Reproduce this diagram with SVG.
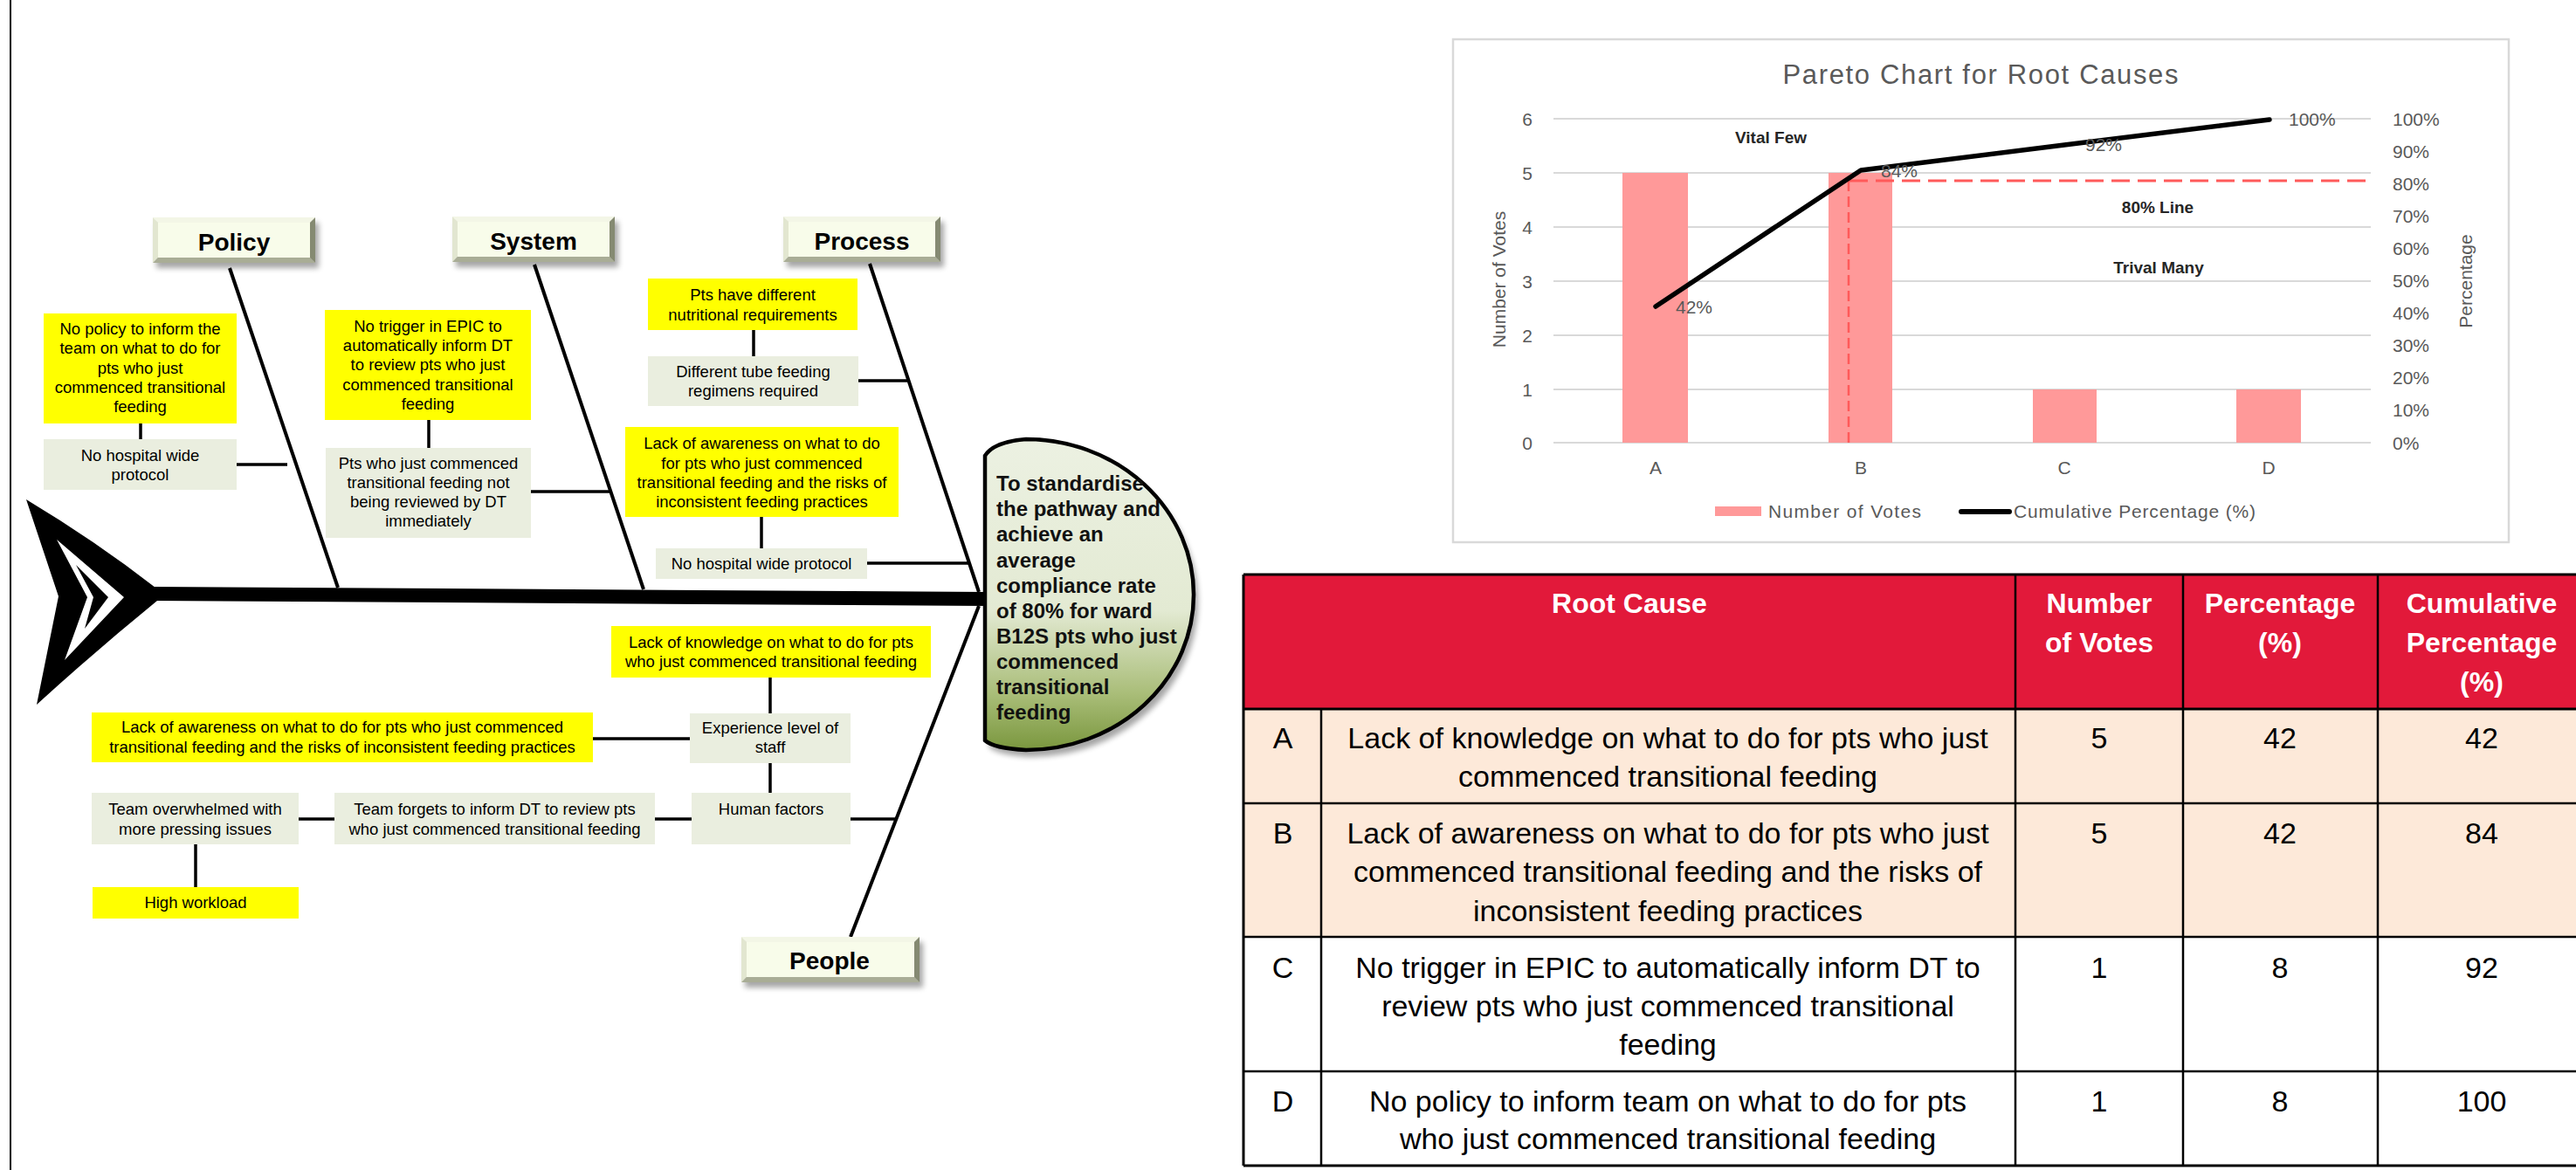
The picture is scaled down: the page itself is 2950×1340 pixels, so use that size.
<svg xmlns="http://www.w3.org/2000/svg" width="2950" height="1340" viewBox="0 0 2950 1340">
<defs>
<style>
.yel{fill:#FFFF00}
.gry{fill:#EAEEDF}
.t{font-family:"Liberation Sans",Arial,sans-serif;font-size:18.5px;fill:#000;text-anchor:middle}
.cat{font-family:"Liberation Sans",Arial,sans-serif;font-weight:bold;font-size:28px;fill:#000;text-anchor:middle}
.hd{font-family:"Liberation Sans",Arial,sans-serif;font-weight:bold;font-size:24px;fill:#111}
.ln{stroke:#000;stroke-width:4;fill:none}
.cn{stroke:#000;stroke-width:3.5;fill:none}
.bt{fill:#F3F6E6}.bl{fill:#E2E6D0}.br{fill:#858A72}.bb{fill:#A9AD96}.bf{fill:#F8FCEA}
.shd{fill:#000;opacity:.35}
.ct{font-family:"Liberation Sans",Arial,sans-serif;font-size:21px;fill:#595959}
.cb{font-family:"Liberation Sans",Arial,sans-serif;font-size:19px;font-weight:bold;fill:#262626;text-anchor:middle}
.grid{stroke:#D9D9D9;stroke-width:2}
.bar{fill:#FF9999}
.tb{font-family:"Liberation Sans",Arial,sans-serif;font-size:34px;fill:#000;text-anchor:middle}
.th{font-family:"Liberation Sans",Arial,sans-serif;font-size:32px;font-weight:bold;fill:#fff;text-anchor:middle}
.tl{stroke:#000;stroke-width:2.5;fill:none}
</style>
<filter id="blur" x="-20%" y="-20%" width="140%" height="140%"><feGaussianBlur stdDeviation="3"/></filter>
<linearGradient id="headg" x1="0" y1="0" x2="0" y2="1">
<stop offset="0" stop-color="#ECF1E2"/>
<stop offset="0.55" stop-color="#E3EAD3"/>
<stop offset="0.82" stop-color="#A9BD78"/>
<stop offset="1" stop-color="#7A973E"/>
</linearGradient>
</defs>
<rect x="0" y="0" width="2950" height="1340" fill="#fff"/>
<line x1="12" y1="0" x2="12" y2="1340" stroke="#000" stroke-width="2"/>

<!-- fish tail and spine -->
<g id="tail">
<path d="M30,572 Q110,620 178,673 L180,688 Q110,745 42,807 L67,683 Z" fill="#000"/>
<polygon points="65,618 142,684 74,756 100,684" fill="#fff"/>
<polygon points="87,647 124,684 97,720 107,684" fill="#000"/>
</g>
<g id="spine">
<polygon points="176,672 1132,678 1132,694 176,688" fill="#000"/>
</g>

<g id="connectors">
<path class="ln" d="M263,307 L387,673"/>
<path class="ln" d="M612,303 L737,675"/>
<path class="ln" d="M996,302 L1121,678"/>
<path class="ln" d="M1121,694 L974,1073"/>
<path class="cn" d="M161,485 V503"/>
<path class="cn" d="M271,532 H329"/>
<path class="cn" d="M491,481 V513"/>
<path class="cn" d="M608,563 H700"/>
<path class="cn" d="M863,378 V408"/>
<path class="cn" d="M983,436 H1040"/>
<path class="cn" d="M872,592 V628"/>
<path class="cn" d="M993,645 H1110"/>
<path class="cn" d="M882,776 V817"/>
<path class="cn" d="M679,846 H790"/>
<path class="cn" d="M882,874 V908"/>
<path class="cn" d="M974,938 H1026"/>
<path class="cn" d="M750,938 H792"/>
<path class="cn" d="M342,938 H383"/>
<path class="cn" d="M224,967 V1016"/>
</g>

<!-- head -->
<g id="head">
<path d="M1128,522 Q1138,506 1175,503 A192,178 0 0 1 1175,859 Q1138,857 1128,848 Z" class="shd" transform="translate(5,8)" filter="url(#blur)"/>
<path d="M1128,522 Q1138,506 1175,503 A192,178 0 0 1 1175,859 Q1138,857 1128,848 Z" fill="url(#headg)" stroke="#000" stroke-width="4.5"/>
<text class="hd" x="1141" y="562">To standardise</text>
<text class="hd" x="1141" y="591">the pathway and</text>
<text class="hd" x="1141" y="620">achieve an</text>
<text class="hd" x="1141" y="650">average</text>
<text class="hd" x="1141" y="679">compliance rate</text>
<text class="hd" x="1141" y="708">of 80% for ward</text>
<text class="hd" x="1141" y="737">B12S pts who just</text>
<text class="hd" x="1141" y="766">commenced</text>
<text class="hd" x="1141" y="795">transitional</text>
<text class="hd" x="1141" y="824">feeding</text>
</g>

<!-- category boxes -->
<g id="cat-policy">
<rect class="shd" x="179" y="255" width="186" height="52" filter="url(#blur)"/>
<polygon class="bt" points="175,249 361,249 355,255 181,255"/>
<polygon class="bl" points="175,249 181,255 181,295 175,301"/>
<polygon class="br" points="361,249 361,301 355,295 355,255"/>
<polygon class="bb" points="175,301 181,295 355,295 361,301"/>
<rect class="bf" x="181" y="255" width="174" height="40"/>
<text class="cat" x="268" y="287">Policy</text>
</g>
<g id="cat-system">
<rect class="shd" x="522" y="254" width="186" height="52" filter="url(#blur)"/>
<polygon class="bt" points="518,248 704,248 698,254 524,254"/>
<polygon class="bl" points="518,248 524,254 524,294 518,300"/>
<polygon class="br" points="704,248 704,300 698,294 698,254"/>
<polygon class="bb" points="518,300 524,294 698,294 704,300"/>
<rect class="bf" x="524" y="254" width="174" height="40"/>
<text class="cat" x="611" y="286">System</text>
</g>
<g id="cat-process">
<rect class="shd" x="901" y="254" width="180" height="52" filter="url(#blur)"/>
<polygon class="bt" points="897,248 1077,248 1071,254 903,254"/>
<polygon class="bl" points="897,248 903,254 903,294 897,300"/>
<polygon class="br" points="1077,248 1077,300 1071,294 1071,254"/>
<polygon class="bb" points="897,300 903,294 1071,294 1077,300"/>
<rect class="bf" x="903" y="254" width="168" height="40"/>
<text class="cat" x="987" y="286">Process</text>
</g>
<g id="cat-people">
<rect class="shd" x="853" y="1079" width="204" height="52" filter="url(#blur)"/>
<polygon class="bt" points="849,1073 1053,1073 1047,1079 855,1079"/>
<polygon class="bl" points="849,1073 855,1079 855,1119 849,1125"/>
<polygon class="br" points="1053,1073 1053,1125 1047,1119 1047,1079"/>
<polygon class="bb" points="849,1125 855,1119 1047,1119 1053,1125"/>
<rect class="bf" x="855" y="1079" width="192" height="40"/>
<text class="cat" x="950" y="1110">People</text>
</g>

<!-- policy causes -->
<g id="policy-root">
<rect class="yel" x="50" y="359" width="221" height="126"/>
<text class="t" x="160.5" y="383">No policy to inform the</text>
<text class="t" x="160.5" y="405">team on what to do for</text>
<text class="t" x="160.5" y="428">pts who just</text>
<text class="t" x="160.5" y="450">commenced transitional</text>
<text class="t" x="160.5" y="472">feeding</text>
</g>
<g id="policy-cause">
<rect class="gry" x="50" y="503" width="221" height="58"/>
<text class="t" x="160.5" y="528">No hospital wide</text>
<text class="t" x="160.5" y="550">protocol</text>
</g>

<!-- system causes -->
<g id="system-root">
<rect class="yel" x="372" y="355" width="236" height="126"/>
<text class="t" x="490" y="380">No trigger in EPIC to</text>
<text class="t" x="490" y="402">automatically inform DT</text>
<text class="t" x="490" y="424">to review pts who just</text>
<text class="t" x="490" y="447">commenced transitional</text>
<text class="t" x="490" y="469">feeding</text>
</g>
<g id="system-cause">
<rect class="gry" x="373" y="513" width="235" height="103"/>
<text class="t" x="490.5" y="537">Pts who just commenced</text>
<text class="t" x="490.5" y="559">transitional feeding not</text>
<text class="t" x="490.5" y="581">being reviewed by DT</text>
<text class="t" x="490.5" y="603">immediately</text>
</g>

<!-- process causes -->
<g id="process-root1">
<rect class="yel" x="742" y="319" width="240" height="59"/>
<text class="t" x="862" y="344">Pts have different</text>
<text class="t" x="862" y="367">nutritional requirements</text>
</g>
<g id="process-cause1">
<rect class="gry" x="742" y="408" width="241" height="57"/>
<text class="t" x="862.5" y="432">Different tube feeding</text>
<text class="t" x="862.5" y="454">regimens required</text>
</g>
<g id="process-root2">
<rect class="yel" x="716" y="489" width="313" height="103"/>
<text class="t" x="872.5" y="514">Lack of awareness on what to do</text>
<text class="t" x="872.5" y="537">for pts who just commenced</text>
<text class="t" x="872.5" y="559">transitional feeding and the risks of</text>
<text class="t" x="872.5" y="581">inconsistent feeding practices</text>
</g>
<g id="process-cause2">
<rect class="gry" x="751" y="628" width="242" height="35"/>
<text class="t" x="872" y="652">No hospital wide protocol</text>
</g>

<!-- people causes -->
<g id="people-root1">
<rect class="yel" x="700" y="717" width="366" height="59"/>
<text class="t" x="883" y="742">Lack of knowledge on what to do for pts</text>
<text class="t" x="883" y="764">who just commenced transitional feeding</text>
</g>
<g id="people-experience">
<rect class="gry" x="790" y="817" width="184" height="57"/>
<text class="t" x="882" y="840">Experience level of</text>
<text class="t" x="882" y="862">staff</text>
</g>
<g id="people-root2">
<rect class="yel" x="105" y="816" width="574" height="57"/>
<text class="t" x="392" y="839">Lack of awareness on what to do for pts who just commenced</text>
<text class="t" x="392" y="862">transitional feeding and the risks of inconsistent feeding practices</text>
</g>
<g id="people-human">
<rect class="gry" x="792" y="908" width="182" height="59"/>
<text class="t" x="883" y="933">Human  factors</text>
</g>
<g id="people-forgets">
<rect class="gry" x="383" y="908" width="367" height="59"/>
<text class="t" x="566.5" y="933">Team forgets to inform DT to review pts</text>
<text class="t" x="566.5" y="956">who just commenced transitional feeding</text>
</g>
<g id="people-overwhelmed">
<rect class="gry" x="105" y="908" width="237" height="59"/>
<text class="t" x="223.5" y="933">Team overwhelmed with</text>
<text class="t" x="223.5" y="956">more pressing issues</text>
</g>
<g id="people-workload">
<rect class="yel" x="106" y="1016" width="236" height="36"/>
<text class="t" x="224" y="1040">High workload</text>
</g>

<!-- Pareto chart -->
<g id="pareto-chart">
<rect x="1664" y="45" width="1209" height="576" fill="#fff" stroke="#D9D9D9" stroke-width="2.5"/>
<text class="ct" x="2268" y="96" text-anchor="middle" style="font-size:31px" textLength="453" lengthAdjust="spacing">Pareto Chart for Root Causes</text>
<g>
<line class="grid" x1="1779" y1="136" x2="2715" y2="136"/>
<line class="grid" x1="1779" y1="198" x2="2715" y2="198"/>
<line class="grid" x1="1779" y1="260" x2="2715" y2="260"/>
<line class="grid" x1="1779" y1="322" x2="2715" y2="322"/>
<line class="grid" x1="1779" y1="384" x2="2715" y2="384"/>
<line class="grid" x1="1779" y1="446" x2="2715" y2="446"/>
<line class="grid" x1="1779" y1="507" x2="2715" y2="507"/>
</g>
<g text-anchor="middle">
<text class="ct" x="1749" y="144">6</text>
<text class="ct" x="1749" y="206">5</text>
<text class="ct" x="1749" y="268">4</text>
<text class="ct" x="1749" y="330">3</text>
<text class="ct" x="1749" y="392">2</text>
<text class="ct" x="1749" y="454">1</text>
<text class="ct" x="1749" y="515">0</text>
</g>
<g>
<text class="ct" x="2740" y="144">100%</text>
<text class="ct" x="2740" y="181">90%</text>
<text class="ct" x="2740" y="218">80%</text>
<text class="ct" x="2740" y="255">70%</text>
<text class="ct" x="2740" y="292">60%</text>
<text class="ct" x="2740" y="329">50%</text>
<text class="ct" x="2740" y="366">40%</text>
<text class="ct" x="2740" y="403">30%</text>
<text class="ct" x="2740" y="440">20%</text>
<text class="ct" x="2740" y="477">10%</text>
<text class="ct" x="2740" y="515">0%</text>
</g>
<text class="ct" transform="translate(1724,320) rotate(-90)" text-anchor="middle">Number of Votes</text>
<text class="ct" transform="translate(2831,322) rotate(-90)" text-anchor="middle">Percentage</text>
<rect class="bar" x="1858" y="198" width="75" height="309"/>
<rect class="bar" x="2094" y="198" width="73" height="309"/>
<rect class="bar" x="2328" y="446" width="73" height="61"/>
<rect class="bar" x="2561" y="446" width="74" height="61"/>
<g text-anchor="middle">
<text class="ct" x="1896" y="543">A</text>
<text class="ct" x="2131" y="543">B</text>
<text class="ct" x="2364" y="543">C</text>
<text class="ct" x="2598" y="543">D</text>
</g>
<line x1="2117" y1="207" x2="2117" y2="507" stroke="#FF5A5A" stroke-width="2.5" stroke-dasharray="12 6"/>
<line x1="2118" y1="207" x2="2710" y2="207" stroke="#FF5A5A" stroke-width="3" stroke-dasharray="21 9"/>
<polyline points="1896,351 2131,195 2364,166 2599,137" fill="none" stroke="#000" stroke-width="5.5" stroke-linecap="round" stroke-linejoin="round"/>
<text class="ct" x="1919" y="359">42%</text>
<text class="ct" x="2154" y="203">84%</text>
<text class="ct" x="2388" y="173">92%</text>
<text class="ct" x="2621" y="144">100%</text>
<text class="cb" x="2028" y="164">Vital Few</text>
<text class="cb" x="2471" y="244">80% Line</text>
<text class="cb" x="2472" y="313">Trival Many</text>
<rect class="bar" x="1964" y="580" width="53" height="11"/>
<text class="ct" x="2025" y="593" textLength="175" lengthAdjust="spacing">Number of Votes</text>
<line x1="2246" y1="586" x2="2301" y2="586" stroke="#000" stroke-width="6" stroke-linecap="round"/>
<text class="ct" x="2306" y="593" textLength="277" lengthAdjust="spacing">Cumulative Percentage (%)</text>
</g>

<!-- table -->
<g id="root-cause-table">
<rect x="1424" y="658" width="1540" height="154" fill="#E2193A"/>
<rect x="1424" y="812" width="1540" height="261" fill="#FDE9D9"/>
<rect x="1424" y="1073" width="1540" height="262" fill="#fff"/>
<g class="tl">
<line x1="1424" y1="658" x2="2964" y2="658" stroke-width="3"/>
<line x1="1424" y1="812" x2="2964" y2="812" stroke-width="3"/>
<line x1="1424" y1="920" x2="2964" y2="920"/>
<line x1="1424" y1="1073" x2="2964" y2="1073"/>
<line x1="1424" y1="1227" x2="2964" y2="1227"/>
<line x1="1424" y1="1335" x2="2964" y2="1335" stroke-width="3"/>
<line x1="1424" y1="658" x2="1424" y2="1335" stroke-width="3"/>
<line x1="1513" y1="812" x2="1513" y2="1335"/>
<line x1="2308" y1="658" x2="2308" y2="1335"/>
<line x1="2500" y1="658" x2="2500" y2="1335"/>
<line x1="2723" y1="658" x2="2723" y2="1335"/>
</g>
<text class="th" x="1866" y="702">Root Cause</text>
<text class="th" x="2404" y="702">Number</text>
<text class="th" x="2404" y="747">of Votes</text>
<text class="th" x="2611" y="702">Percentage</text>
<text class="th" x="2611" y="747">(%)</text>
<text class="th" x="2842" y="702">Cumulative</text>
<text class="th" x="2842" y="747">Percentage</text>
<text class="th" x="2842" y="792">(%)</text>
<text class="tb" x="1469" y="857">A</text>
<text class="tb" x="1910" y="857">Lack of knowledge on what to do for pts who just</text>
<text class="tb" x="1910" y="901">commenced transitional feeding</text>
<text class="tb" x="2404" y="857">5</text>
<text class="tb" x="2611" y="857">42</text>
<text class="tb" x="2842" y="857">42</text>
<text class="tb" x="1469" y="966">B</text>
<text class="tb" x="1910" y="966">Lack of awareness on what to do for pts who just</text>
<text class="tb" x="1910" y="1010">commenced transitional feeding and the risks of</text>
<text class="tb" x="1910" y="1055">inconsistent feeding practices</text>
<text class="tb" x="2404" y="966">5</text>
<text class="tb" x="2611" y="966">42</text>
<text class="tb" x="2842" y="966">84</text>
<text class="tb" x="1469" y="1120">C</text>
<text class="tb" x="1910" y="1120">No trigger in EPIC to automatically inform DT to</text>
<text class="tb" x="1910" y="1164">review pts who just commenced transitional</text>
<text class="tb" x="1910" y="1208">feeding</text>
<text class="tb" x="2404" y="1120">1</text>
<text class="tb" x="2611" y="1120">8</text>
<text class="tb" x="2842" y="1120">92</text>
<text class="tb" x="1469" y="1273">D</text>
<text class="tb" x="1910" y="1273">No policy to inform team on what to do for pts</text>
<text class="tb" x="1910" y="1316">who just commenced transitional feeding</text>
<text class="tb" x="2404" y="1273">1</text>
<text class="tb" x="2611" y="1273">8</text>
<text class="tb" x="2842" y="1273">100</text>
</g>
</svg>
